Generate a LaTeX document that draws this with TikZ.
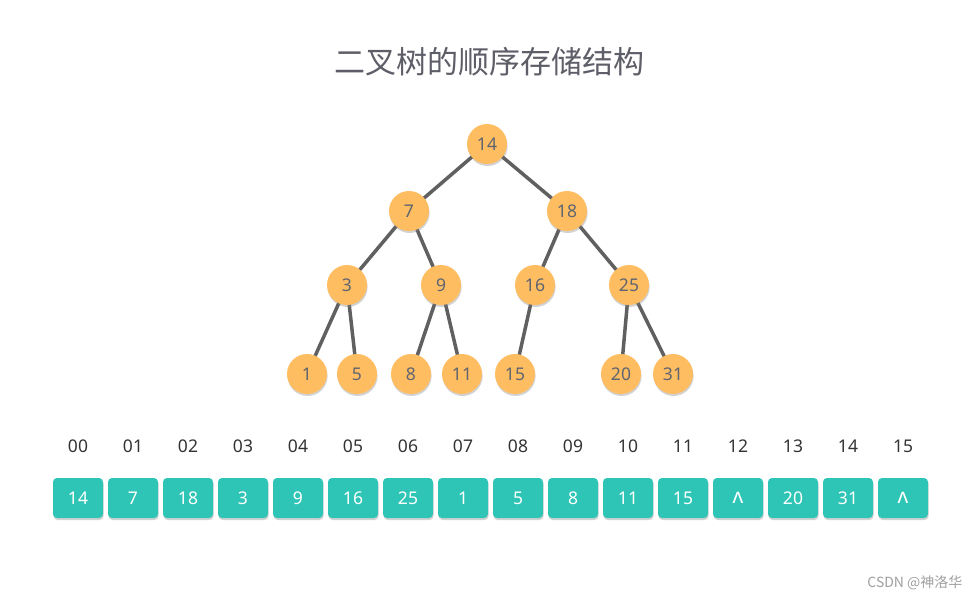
\documentclass[tikz,border=0pt]{standalone}
\usepackage{fontspec}
\setmainfont{Noto Sans}
\newfontfamily\cjk{Noto Sans CJK SC}
\usetikzlibrary{shadows}
\definecolor{nodeorange}{HTML}{FFBD62}
\definecolor{nodetext}{HTML}{5F6470}
\definecolor{edgegray}{HTML}{606060}
\definecolor{boxteal}{HTML}{2FC5B6}
\definecolor{idxtext}{HTML}{333333}
\definecolor{titlegray}{HTML}{5E5E68}
\definecolor{wmgray}{HTML}{A0A0A0}
\newcommand{\nilmark}{\raisebox{-1pt}{\bfseries\fontsize{21}{21}\selectfont ʌ}}
\begin{document}
\begin{tikzpicture}[x=1pt,y=-1pt,
  treenode/.style={circle,fill=nodeorange,minimum size=40pt,inner sep=0pt,
    text=nodetext,font=\fontsize{17.5}{17.5}\selectfont,
    drop shadow={opacity=0.35,shadow xshift=0.6pt,shadow yshift=-2pt}},
  edge/.style={draw=edgegray,line width=3.5pt},
  cell/.style={rectangle,rounded corners=4pt,fill=boxteal,minimum width=50pt,minimum height=40pt,
    inner sep=0pt,text=white,font=\fontsize{17.5}{17.5}\selectfont,
    drop shadow={opacity=0.35,shadow xshift=0.6pt,shadow yshift=-2pt}},
  idx/.style={text=idxtext,font=\fontsize{17.5}{17.5}\selectfont,inner sep=0pt}
]
\useasboundingbox[fill=white] (0,0) rectangle (980,600);
\node[text=titlegray,font=\cjk\fontsize{31}{31}\selectfont] (title) at (489,62) {二叉树的顺序存储结构};
\coordinate (p14) at (487,144);
\coordinate (p7) at (409,211);
\coordinate (p18) at (567,211);
\coordinate (p3) at (347,285);
\coordinate (p9) at (441,285);
\coordinate (p16) at (535,285);
\coordinate (p25) at (629,285);
\coordinate (p1) at (307,374);
\coordinate (p5) at (357,374);
\coordinate (p8) at (411,374);
\coordinate (p11) at (462,374);
\coordinate (p15) at (515,374);
\coordinate (p20) at (621,374);
\coordinate (p31) at (673,374);
\draw[edge] (p14)--(p7) (p14)--(p18) (p7)--(p3) (p7)--(p9) (p18)--(p16) (p18)--(p25)
  (p3)--(p1) (p3)--(p5) (p9)--(p8) (p9)--(p11) (p16)--(p15) (p25)--(p20) (p25)--(p31);
\foreach \v in {14,7,18,3,9,16,25,1,5,8,11,15,20,31}
  \node[treenode] (n\v) at (p\v) {\v};
\foreach \val [count=\i from 0] in {14,7,18,3,9,16,25,1,5,8,11,15,\nilmark,20,31,\nilmark}{
  \node[cell] (c\i) at (78+55*\i,498) {\val};
  \node[idx] (i\i) at (78+55*\i,446) {\ifnum\i<10 0\fi\i};
}
\node[text=wmgray,font=\cjk\fontsize{14}{14}\selectfont,anchor=east] (wm) at (966,583) {CSDN @神洛华};
\end{tikzpicture}
\end{document}
